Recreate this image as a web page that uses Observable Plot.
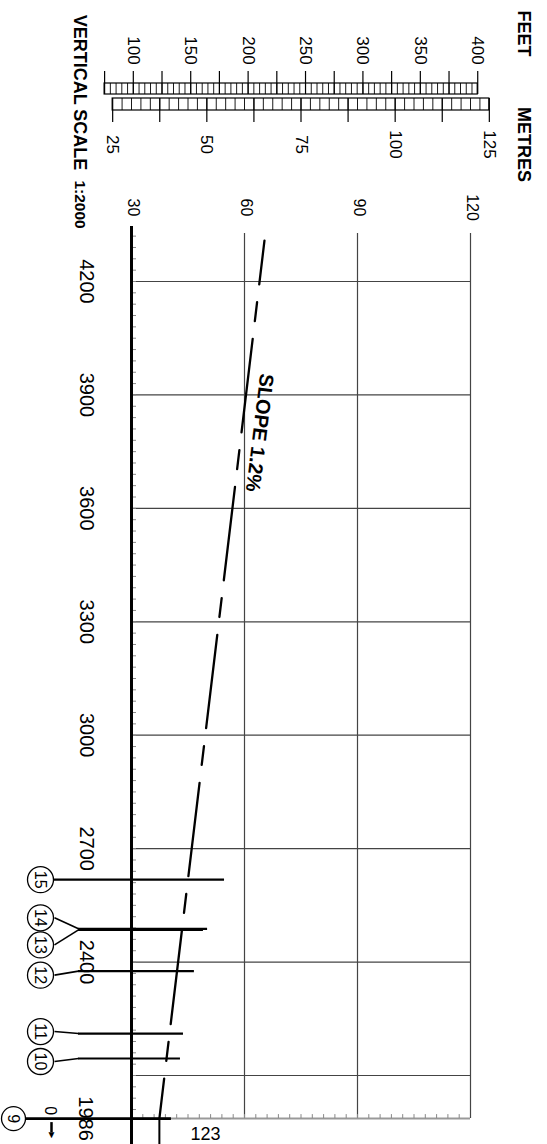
<!DOCTYPE html>
<html><head><meta charset="utf-8">
<script src="https://cdn.jsdelivr.net/npm/d3@7"></script>
<script src="https://cdn.jsdelivr.net/npm/@observablehq/plot@0.6"></script>
<style>
html,body{margin:0;padding:0;background:#fff;}
#wrap{position:relative;width:547px;height:1144px;overflow:hidden;font-family:"Liberation Sans",Arial,sans-serif;}
#wrap svg{position:absolute;left:0;top:0;}
</style></head><body><div id="wrap"></div>
<script>
// ---------- data ----------
const distanceLabels = [4200, 3900, 3600, 3300, 3000, 2700, 2400];
const gridDistances = [4200, 3900, 3600, 3300, 3000, 2700, 2400, 2100];
const elevationLabels = [30, 60, 90, 120];
const startDistance = 1986;
const startDistanceLabel = "1986";
const startOffsetLabel = "0";
const stationIds = [9, 10, 11, 12, 13, 14, 15];
const stationDistance = [1986, 2145, 2211, 2376, 2485, 2488, 2618];
const stationElevation = [40.6, 43.0, 43.8, 46.7, 49.1, 50.2, 54.7];
const slopeDistance = [4308, 1986];
const slopeElevation = [65.3, 37.4];
const slopeText = "SLOPE 1.2%";
const baseElevationFeetLabel = "123";
const feetLabels = [100, 150, 200, 250, 300, 350, 400];
const metreLabels = [25, 50, 75, 100, 125];
const FT = 0.3048;

// ---------- layout ----------
const X = {domain: [30, 120], range: [131, 470]};
const Y = {domain: [4200, 2100], range: [281, 1075]};
const pxPerM = (X.range[1] - X.range[0]) / (X.domain[1] - X.domain[0]);
const pxPerFt = (Y.range[1] - Y.range[0]) / (Y.domain[0] - Y.domain[1]);
const eAt = px => X.domain[0] + (px - X.range[0]) / pxPerM;   // elevation at a page x
const dShift = (d, px) => d - px / pxPerFt;                     // distance moved px downwards
const AXIS_TOP = dShift(4200, 226 - 281);
const GRID_TOP = dShift(4200, 233 - 281);
const BOTTOM = dShift(4200, 1150 - 281);
const labelOffset = {9: 0, 10: 3, 11: -2, 12: 4, 13: 15, 14: -11, 15: 0};
const circleX = {9: 13, 10: 40, 11: 40, 12: 40, 13: 40, 14: 40, 15: 40};
const R = 13;

const stations = stationIds.map((id, i) => ({
  id, dist: stationDistance[i], elev: stationElevation[i],
  labelDist: dShift(stationDistance[i], labelOffset[id]),
  cx: eAt(circleX[id]),
  start: (id === 9 || id === 15) ? eAt(circleX[id] + R) : eAt(78)
}));
const slope = slopeDistance.map((d, i) => ({dist: d, elev: slopeElevation[i]}));
const slopeAt = d => slopeElevation[1] + (slopeElevation[0] - slopeElevation[1]) * (d - slopeDistance[1]) / (slopeDistance[0] - slopeDistance[1]);
const labelDist = 3800;

const font = "Liberation Sans, Arial, sans-serif";

const main = Plot.plot({
  width: 547, height: 1144,
  style: {background: "transparent", fontFamily: font, overflow: "visible"},
  x: {...X, axis: null},
  y: {...Y, axis: null},
  marks: [
    // grid
    Plot.ruleX(elevationLabels.slice(1), {x: d => d, y1: GRID_TOP, y2: startDistance, stroke: "#444", strokeWidth: 1.2}),
    Plot.ruleY(gridDistances, {y: d => d, x1: 30, x2: 120, stroke: "#444", strokeWidth: 1.2}),
    // baseline at start chainage
    Plot.ruleY([startDistance], {y: d => d, x1: 30, x2: 120, stroke: "#999", strokeWidth: 2}),
    Plot.ruleX(d3.range(33, 118, 3), {x: d => d, y1: startDistance, y2: dShift(startDistance, -4), stroke: "#888", strokeWidth: 1}),
    // distance ticks on thick axis
    Plot.ruleY(d3.range(4320, 2000, -30), {y: d => d, x1: 30, x2: eAt(136), stroke: "#888", strokeWidth: 1}),
    Plot.ruleX([30], {x: d => d, y1: AXIS_TOP, y2: BOTTOM, stroke: "black", strokeWidth: 3}),
    // station lines
    Plot.link(stations.filter(d => d.id !== 9 && d.id !== 15), {x1: d => eAt(circleX[d.id] + R + 1), y1: "labelDist", x2: eAt(78), y2: "dist", stroke: "black", strokeWidth: 1.6}),
    Plot.ruleY(stations.filter(d => d.id !== 9), {y: "dist", x1: "start", x2: "elev", stroke: "black", strokeWidth: 2.2}),
    Plot.ruleY(stations.filter(d => d.id === 9), {y: "dist", x1: "start", x2: "elev", stroke: "black", strokeWidth: 2.7}),
    Plot.dot(stations.filter(d => d.id !== 9), {x: "cx", y: "labelDist", r: R, fill: "white", stroke: "black", strokeWidth: 1.3}),
    Plot.dot(stations.filter(d => d.id === 9), {x: "cx", y: "labelDist", r: 12, fill: "white", stroke: "black", strokeWidth: 1.3}),
    Plot.text(stations, {x: "cx", y: "labelDist", text: d => String(d.id), rotate: 90, fontSize: 16, fill: "black"}),
    // slope line
    Plot.line(slope, {x: "elev", y: "dist", stroke: "black", strokeWidth: 2.3, strokeDasharray: "94,18,19,18", strokeDashoffset: 50}),
    Plot.ruleX([slopeElevation[1]], {x: d => d, y1: startDistance, y2: BOTTOM, stroke: "black", strokeWidth: 2}),
    Plot.text([slopeText], {x: slopeAt(labelDist), y: labelDist, text: d => d, rotate: 97, dx: 18, fontSize: 20, fontWeight: "bold", fill: "black"}),
    // distance labels
    Plot.text(distanceLabels, {x: 30, y: d => d, text: d => String(d), dx: -45, rotate: 90, fontSize: 20, fill: "black"}),
    Plot.text([startDistanceLabel], {x: 30, y: startDistance, text: d => d, dx: -46, rotate: 90, fontSize: 20, fill: "black"}),
    Plot.text([startOffsetLabel], {x: eAt(50), y: startDistance, text: d => d, dy: -8, rotate: 90, fontSize: 16, fill: "black"}),
    Plot.ruleX([eAt(51)], {x: d => d, y1: dShift(startDistance, 4), y2: dShift(startDistance, 14), stroke: "black", strokeWidth: 2.5}),
    Plot.text(["\u25BC"], {x: eAt(51), y: startDistance, text: d => d, dy: 16, fontSize: 10, fill: "black"}),
    Plot.text([baseElevationFeetLabel], {x: 30, y: startDistance, text: d => d, dx: 74, dy: 16, fontSize: 18, fill: "black"}),
    // elevation labels
    Plot.text(elevationLabels, {x: d => d, y: 4200, text: d => String(d), dy: -74, dx: 2, rotate: 90, fontSize: 16, fill: "black"})
  ]
});

const bar = Plot.plot({
  width: 547, height: 230,
  style: {background: "transparent", fontFamily: font, overflow: "visible"},
  x: {...X, axis: null},
  y: {type: "identity", axis: null},
  marks: [
    Plot.rect([0], {x1: 75 * FT, x2: 400 * FT, y1: 83, y2: 94, fill: "none", stroke: "black", strokeWidth: 1.2}),
    Plot.ruleX(d3.range(80, 400, 5).map(f => f * FT), {x: d => d, y1: 83, y2: 94, stroke: "black", strokeWidth: 0.9}),
    Plot.ruleX(d3.range(75, 401, 25).map(f => f * FT), {x: d => d, y1: 71, y2: 94, stroke: "black", strokeWidth: 1.2}),
    Plot.text(feetLabels, {x: d => d * FT, y: 50, text: d => String(d), rotate: 90, fontSize: 17, fill: "black"}),
    Plot.rect([0], {x1: 25, x2: 125, y1: 98, y2: 110, fill: "none", stroke: "black", strokeWidth: 1.2}),
    Plot.ruleX(d3.range(27.5, 125, 2.5), {x: d => d, y1: 98, y2: 110, stroke: "black", strokeWidth: 0.9}),
    Plot.ruleX(d3.range(25, 126, 12.5), {x: d => d, y1: 98, y2: 122, stroke: "black", strokeWidth: 1.2}),
    Plot.text(metreLabels, {x: d => d, y: 144, text: d => String(d), rotate: 90, fontSize: 17, fill: "black"}),
    Plot.text(["FEET"], {x: 125, y: 33, text: d => d, dx: 34, rotate: 90, fontSize: 18, fontWeight: "bold", fill: "black"}),
    Plot.text(["METRES"], {x: 125, y: 144, text: d => d, dx: 34, rotate: 90, fontSize: 18, fontWeight: "bold", fill: "black"}),
    Plot.text(["VERTICAL SCALE"], {x: 25, y: 92, text: d => d, dx: -33, rotate: 90, fontSize: 18, fontWeight: "bold", fill: "black"}),
    Plot.text(["1:2000"], {x: 25, y: 204, text: d => d, dx: -33, rotate: 90, fontSize: 15.5, fontWeight: "bold", fill: "black"})
  ]
});

const wrap = document.getElementById("wrap");
wrap.appendChild(main);
wrap.appendChild(bar);
</script>
</body></html>
